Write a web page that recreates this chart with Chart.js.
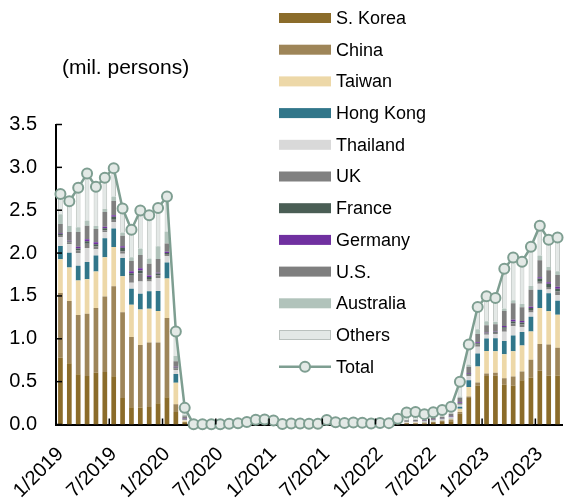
<!DOCTYPE html>
<html lang="en">
<head>
<meta charset="UTF-8">
<title>Foreign visitors by country</title>
<script src="https://cdn.jsdelivr.net/npm/chart.js"></script>
<style>
  html, body { margin: 0; padding: 0; background: #fff; }
  #wrap { position: relative; width: 569px; height: 498px; }
</style>
</head>
<body>
<div id="wrap"><canvas id="visitorsChart"></canvas></div>
<script>
// months on the x axis
const months = [
  "1/2019","2/2019","3/2019","4/2019","5/2019","6/2019","7/2019","8/2019","9/2019","10/2019","11/2019","12/2019",
  "1/2020","2/2020","3/2020","4/2020","5/2020","6/2020","7/2020","8/2020","9/2020","10/2020","11/2020","12/2020",
  "1/2021","2/2021","3/2021","4/2021","5/2021","6/2021","7/2021","8/2021","9/2021","10/2021","11/2021","12/2021",
  "1/2022","2/2022","3/2022","4/2022","5/2022","6/2022","7/2022","8/2022","9/2022","10/2022","11/2022","12/2022",
  "1/2023","2/2023","3/2023","4/2023","5/2023","6/2023","7/2023","8/2023","9/2023"
];

// mil. persons
const korea = [0.779,0.716,0.586,0.567,0.603,0.612,0.562,0.309,0.201,0.197,0.205,0.248,
  0.317,0.147,0.017,0.0002,0.0001,0.0001,0.0001,0.0003,0.0005,0.0010,0.0028,0.0029,
  0.0024,0.0002,0.0003,0.0003,0.0003,0.0004,0.0011,0.0009,0.0008,0.0010,0.0011,0.0005,
  0.0006,0.0006,0.0046,0.0066,0.0078,0.0109,0.0188,0.0278,0.0379,0.124,0.310,0.456,
  0.565,0.568,0.466,0.455,0.516,0.546,0.627,0.568,0.571];
const china = [0.754,0.724,0.691,0.726,0.756,0.881,1.050,1.001,0.819,0.731,0.751,0.710,
  0.925,0.089,0.011,0.0003,0.0002,0.0003,0.0006,0.0014,0.0020,0.0039,0.0129,0.0142,
  0.0126,0.0013,0.0022,0.0025,0.0014,0.0013,0.0044,0.0026,0.0021,0.0027,0.0024,0.0014,
  0.0020,0.0022,0.0070,0.0103,0.0108,0.0095,0.0113,0.0150,0.0213,0.022,0.017,0.033,
  0.031,0.036,0.075,0.106,0.103,0.208,0.313,0.365,0.325];
const taiwan = [0.394,0.393,0.403,0.403,0.427,0.459,0.460,0.420,0.378,0.413,0.393,0.367,
  0.461,0.250,0.015,0.0001,0,0.0001,0.0001,0.0002,0.0003,0.0006,0.0009,0.0009,
  0.0008,0.0001,0.0001,0.0001,0.0001,0.0001,0.0005,0.0003,0.0003,0.0003,0.0003,0.0002,
  0.0002,0.0002,0.0009,0.0026,0.0033,0.0040,0.0056,0.0066,0.0085,0.038,0.110,0.188,
  0.261,0.250,0.278,0.294,0.303,0.331,0.420,0.388,0.384];
const hongKong = [0.155,0.171,0.171,0.199,0.185,0.222,0.214,0.213,0.185,0.185,0.205,0.233,
  0.187,0.102,0.001,0,0,0,0,0,0,0,0.0002,0.0002,
  0.0002,0,0,0,0,0,0,0,0,0,0,0,
  0,0,0.0001,0.0004,0.0005,0.0007,0.0010,0.0017,0.0029,0.023,0.080,0.150,
  0.146,0.153,0.156,0.182,0.156,0.173,0.213,0.209,0.164];
const thailand = [0.103,0.099,0.146,0.165,0.073,0.069,0.077,0.050,0.072,0.143,0.113,0.150,
  0.075,0.047,0.008,0.0001,0,0,0,0.0004,0.0007,0.0012,0.0015,0.0017,
  0.0012,0.0001,0.0002,0.0002,0.0002,0.0002,0.0015,0.0012,0.0010,0.0012,0.0011,0.0006,
  0.0005,0.0005,0.0035,0.0090,0.0102,0.0095,0.0089,0.0080,0.0108,0.024,0.046,0.080,
  0.045,0.048,0.108,0.108,0.060,0.050,0.068,0.045,0.065];
const uk = [0.026,0.020,0.036,0.050,0.032,0.024,0.027,0.029,0.079,0.092,0.031,0.033,
  0.024,0.017,0.010,0.0001,0,0,0,0,0,0.0005,0.0008,0.0009,
  0.0007,0,0,0,0,0,0.0028,0.0008,0,0,0,0,
  0,0,0.0012,0.0027,0.0030,0.0032,0.0038,0.0044,0.0057,0.011,0.016,0.025,
  0.012,0.013,0.033,0.034,0.029,0.027,0.025,0.028,0.043];
const france = [0.013,0.011,0.021,0.028,0.028,0.023,0.034,0.040,0.032,0.035,0.023,0.020,
  0.013,0.012,0.006,0,0,0,0,0,0,0.0004,0.0005,0.0005,
  0.0004,0,0,0,0,0,0.0017,0.0006,0,0,0,0,
  0,0,0.0009,0.0021,0.0025,0.0027,0.0030,0.0040,0.0045,0.009,0.012,0.015,
  0.006,0.007,0.018,0.024,0.023,0.023,0.036,0.040,0.033];
const germany = [0.011,0.010,0.021,0.023,0.022,0.018,0.017,0.018,0.021,0.027,0.017,0.010,
  0.012,0.009,0.004,0,0,0,0,0,0,0.0003,0.0004,0.0004,
  0.0003,0,0,0,0,0,0.0019,0.0006,0,0,0,0,
  0,0,0.0009,0.0020,0.0023,0.0024,0.0025,0.0028,0.0036,0.008,0.011,0.013,
  0.005,0.006,0.016,0.018,0.018,0.017,0.017,0.018,0.022];
const us = [0.104,0.102,0.170,0.159,0.154,0.171,0.166,0.122,0.121,0.155,0.137,0.161,
  0.099,0.064,0.023,0.0004,0.0002,0.0003,0.0003,0.0007,0.0011,0.0022,0.0024,0.0026,
  0.0021,0.0007,0.0011,0.0012,0.0012,0.0014,0.0107,0.0037,0.0019,0.0021,0.0023,0.0015,
  0.0022,0.0020,0.0065,0.0125,0.0140,0.0158,0.0208,0.0210,0.0304,0.052,0.073,0.095,
  0.086,0.089,0.173,0.193,0.161,0.197,0.196,0.138,0.136];
const australia = [0.114,0.071,0.057,0.059,0.036,0.034,0.054,0.038,0.042,0.076,0.063,0.147,
  0.139,0.063,0.018,0.0001,0,0,0,0,0,0.0002,0.0003,0.0003,
  0.0002,0,0.0001,0,0,0,0.0041,0.0010,0.0002,0.0002,0.0002,0.0001,
  0.0001,0.0001,0.0011,0.0024,0.0028,0.0030,0.0035,0.0040,0.0050,0.016,0.025,0.056,
  0.048,0.030,0.031,0.036,0.036,0.045,0.057,0.038,0.046];
const others = [0.237,0.283,0.458,0.551,0.454,0.367,0.329,0.280,0.320,0.446,0.502,0.451,
  0.408,0.290,0.081,0.0016,0.0015,0.0022,0.0029,0.0060,0.0094,0.0177,0.0333,0.0344,
  0.0261,0.0046,0.0080,0.0067,0.0068,0.0066,0.0233,0.0143,0.0117,0.0145,0.0136,0.0077,
  0.0114,0.0104,0.0393,0.0894,0.0898,0.0593,0.0648,0.0747,0.0764,0.172,0.234,0.259,
  0.292,0.275,0.463,0.499,0.494,0.456,0.348,0.319,0.394];
const total = [2.689,2.604,2.761,2.927,2.773,2.880,2.991,2.520,2.273,2.497,2.441,2.526,
  2.661,1.085,0.194,0.003,0.002,0.003,0.004,0.009,0.014,0.028,0.056,0.059,
  0.047,0.007,0.012,0.011,0.010,0.010,0.052,0.026,0.018,0.022,0.021,0.012,
  0.017,0.016,0.066,0.140,0.147,0.121,0.144,0.170,0.207,0.499,0.934,1.370,
  1.497,1.475,1.817,1.949,1.899,2.073,2.320,2.156,2.183];

const yMin = 0, yMax = 3.5, yStep = 0.5;
const labelEvery = 6;
const FONT = '"Liberation Sans", Arial, sans-serif';

function bar(label, data, color, border) {
  return {
    label, data,
    backgroundColor: color,
    borderColor: border || color,
    borderWidth: border ? 1 : 0,
    barPercentage: 0.53,
    categoryPercentage: 1.0
  };
}

// ticks inside the axes, y-axis title and legend
const overlay = {
  id: 'overlay',
  afterDraw(chart) {
    const { ctx, chartArea: a, scales: { x, y } } = chart;
    ctx.save();
    ctx.strokeStyle = '#000';
    ctx.lineWidth = 1.5;
    y.ticks.forEach(t => {
      const py = y.getPixelForValue(t.value);
      ctx.beginPath(); ctx.moveTo(a.left, py); ctx.lineTo(a.left + 6, py); ctx.stroke();
    });
    for (let i = labelEvery; i < months.length; i += labelEvery) {
      const px = (x.getPixelForValue(i - 1) + x.getPixelForValue(i)) / 2;
      ctx.beginPath(); ctx.moveTo(px, a.bottom); ctx.lineTo(px, a.bottom - 6); ctx.stroke();
    }

    ctx.fillStyle = '#000';
    ctx.textBaseline = 'middle';
    ctx.textAlign = 'left';
    ctx.font = '21px ' + FONT;
    ctx.fillText('(mil. persons)', 62, 68);

    // legend
    ctx.font = '18px ' + FONT;
    chart.data.datasets.forEach((ds, i) => {
      const cy = 18 + i * 31.7;
      if (ds.type === 'line') {
        ctx.strokeStyle = ds.borderColor; ctx.lineWidth = 2.5;
        ctx.beginPath(); ctx.moveTo(279, cy); ctx.lineTo(331, cy); ctx.stroke();
        ctx.fillStyle = ds.pointBackgroundColor; ctx.lineWidth = 2;
        ctx.beginPath(); ctx.arc(305, cy, 5, 0, Math.PI * 2); ctx.fill(); ctx.stroke();
      } else {
        ctx.fillStyle = ds.backgroundColor;
        ctx.fillRect(279, cy - 5, 52, 10);
        if (ds.borderWidth) {
          ctx.strokeStyle = ds.borderColor; ctx.lineWidth = 1;
          ctx.strokeRect(279.5, cy - 4.5, 51, 9);
        }
      }
      ctx.fillStyle = '#000';
      ctx.fillText(ds.label, 336, cy + 1);
    });
    ctx.restore();
  }
};

new Chart(document.getElementById('visitorsChart'), {
  type: 'bar',
  data: {
    labels: months,
    datasets: [
      bar('S. Korea', korea, '#8B6C2A'),
      bar('China', china, '#9E8558'),
      bar('Taiwan', taiwan, '#EDD8A8'),
      bar('Hong Kong', hongKong, '#31768A'),
      bar('Thailand', thailand, '#D9D9D9'),
      bar('UK', uk, '#808080'),
      bar('France', france, '#4A5E55'),
      bar('Germany', germany, '#7030A0'),
      bar('U.S.', us, '#7F7F7F'),
      bar('Australia', australia, '#B1C3BB'),
      bar('Others', others, '#E3E8E6', '#BAC1BE'),
      {
        type: 'line',
        label: 'Total',
        data: total,
        stack: 'total',
        order: -1,
        clip: false,
        borderColor: '#7E9E91',
        borderWidth: 2.5,
        tension: 0,
        pointRadius: 5,
        pointBorderWidth: 2,
        pointBackgroundColor: '#E3E9E6',
        pointBorderColor: '#7E9E91'
      }
    ]
  },
  options: {
    responsive: true,
    maintainAspectRatio: false,
    animation: false,
    layout: { padding: { top: 124.5, right: 0, bottom: 0, left: 0 } },
    plugins: { legend: { display: false }, tooltip: { enabled: false } },
    scales: {
      x: {
        stacked: true,
        offset: true,
        grid: { display: false, drawTicks: false },
        border: { display: true, color: '#000', width: 2 },
        ticks: {
          autoSkip: false,
          maxRotation: 45,
          minRotation: 45,
          padding: 18,
          color: '#000',
          font: { family: FONT, size: 20 },
          callback: (v, i) => i % labelEvery === 0 ? months[i] : ''
        },
        afterFit: s => { s.height = 73.5; s.paddingLeft = 0; s.paddingRight = 0; }
      },
      y: {
        stacked: true,
        min: yMin,
        max: yMax,
        grid: { display: false, drawTicks: false },
        border: { display: true, color: '#000', width: 2 },
        ticks: {
          stepSize: yStep,
          padding: 19,
          color: '#000',
          font: { family: FONT, size: 20 },
          callback: v => v.toFixed(1)
        },
        afterFit: s => { s.width = 56; }
      }
    }
  },
  plugins: [overlay]
});
</script>
</body>
</html>
